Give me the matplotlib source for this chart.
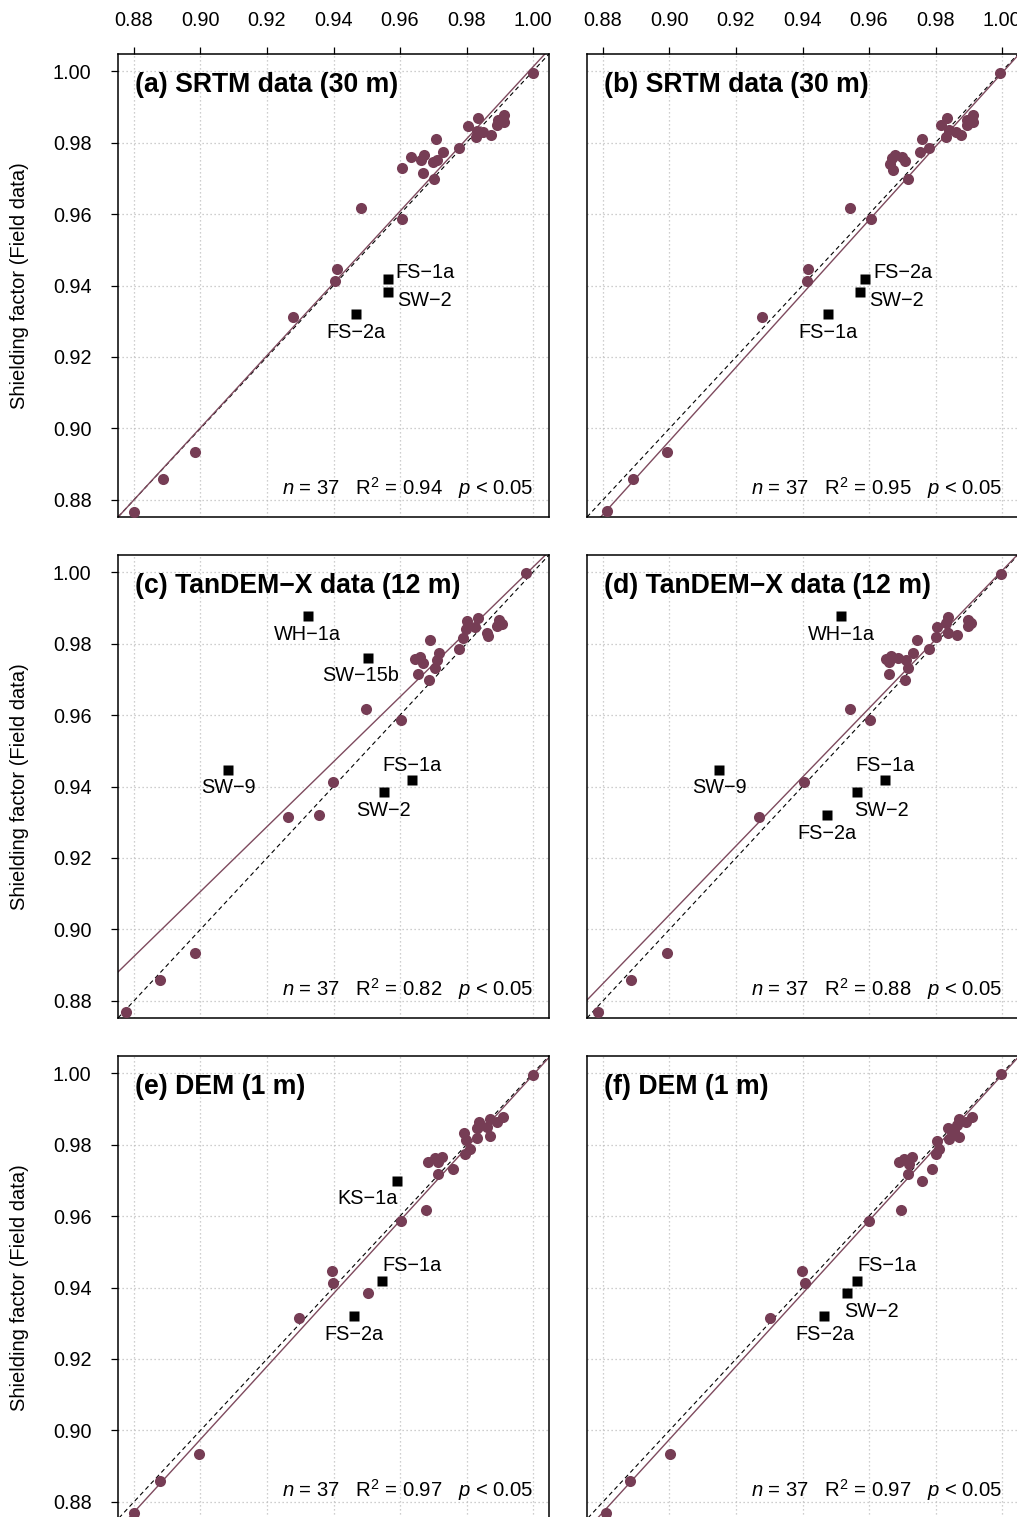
import matplotlib
matplotlib.use('Agg')
import matplotlib.pyplot as plt

plt.rcParams['font.family'] = ['Liberation Sans', 'DejaVu Sans']
plt.rcParams['mathtext.fontset'] = 'custom'
plt.rcParams['mathtext.rm'] = 'Liberation Sans'
plt.rcParams['mathtext.it'] = 'Liberation Sans:italic'
plt.rcParams['mathtext.bf'] = 'Liberation Sans:bold'

# ---------------- data ----------------
ticks = [0.88, 0.90, 0.92, 0.94, 0.96, 0.98, 1.00]
tick_labels = ['0.88', '0.90', '0.92', '0.94', '0.96', '0.98', '1.00']
axis_label = 'Shielding factor (Field data)'

titles = ['(a) SRTM data (30 m)', '(b) SRTM data (30 m)',
          '(c) TanDEM\u2212X data (12 m)', '(d) TanDEM\u2212X data (12 m)',
          '(e) DEM (1 m)', '(f) DEM (1 m)']
n_samples = [37, 37, 37, 37, 37, 37]
r2_values = ['0.94', '0.95', '0.82', '0.88', '0.97', '0.97']
p_text = '0.05'
slopes = [1.010, 1.030, 0.908, 0.963, 1.020, 1.020]
intercepts = [-0.0088, -0.0305, 0.0934, 0.0374, -0.0205, -0.0205]

a_x = [1.0, 0.9914, 0.9896, 0.9914, 0.9891, 0.9834, 0.9803, 0.9831, 0.9851, 0.9874,
       0.9828, 0.9778, 0.9708, 0.9730, 0.9633, 0.9672, 0.9662, 0.9698, 0.9712, 0.9605,
       0.9670, 0.9702, 0.9483, 0.9605, 0.9410, 0.9405, 0.9278, 0.8984, 0.8888, 0.8801]
a_y = [0.9995, 0.9878, 0.9864, 0.9857, 0.9848, 0.9869, 0.9846, 0.9832, 0.9829, 0.9820,
       0.9816, 0.9785, 0.9810, 0.9774, 0.9760, 0.9764, 0.9750, 0.9747, 0.9752, 0.9729,
       0.9715, 0.9698, 0.9616, 0.9586, 0.9446, 0.9412, 0.9313, 0.8933, 0.8859, 0.8767]
a_out_x = [0.9563, 0.9563, 0.9468]
a_out_y = [0.9418, 0.9382, 0.9319]
a_out_lab = ['FS\u22121a', 'SW\u22122', 'FS\u22122a']

b_x = [0.9995, 0.9914, 0.9896, 0.9914, 0.9894, 0.9834, 0.9816, 0.9841, 0.9861, 0.9876,
       0.9831, 0.9758, 0.9779, 0.9754, 0.9669, 0.9679, 0.9663, 0.9699, 0.9709, 0.9671,
       0.9716, 0.9543, 0.9606, 0.9416, 0.9413, 0.9279, 0.8994, 0.8890, 0.8813]
b_y = [0.9995, 0.9878, 0.9864, 0.9857, 0.9850, 0.9869, 0.9848, 0.9835, 0.9829, 0.9822,
       0.9816, 0.9810, 0.9785, 0.9774, 0.9757, 0.9764, 0.9741, 0.9760, 0.9749, 0.9722,
       0.9699, 0.9616, 0.9586, 0.9446, 0.9412, 0.9313, 0.8933, 0.8859, 0.8769]
b_out_x = [0.9588, 0.9574, 0.9476]
b_out_y = [0.9418, 0.9382, 0.9319]
b_out_lab = ['FS\u22122a', 'SW\u22122', 'FS\u22121a']

c_x = [0.9978, 0.9898, 0.9908, 0.9893, 0.9835, 0.9800, 0.9825, 0.9798, 0.9863, 0.9865,
       0.9788, 0.9690, 0.9778, 0.9718, 0.9644, 0.9661, 0.9669, 0.9710, 0.9705, 0.9654,
       0.9688, 0.9499, 0.9604, 0.9397, 0.9264, 0.9357, 0.8985, 0.8878, 0.8775]
c_y = [0.9998, 0.9865, 0.9856, 0.9849, 0.9872, 0.9864, 0.9847, 0.9841, 0.9830, 0.9821,
       0.9816, 0.9809, 0.9786, 0.9774, 0.9757, 0.9763, 0.9746, 0.9755, 0.9732, 0.9716,
       0.9699, 0.9617, 0.9586, 0.9413, 0.9314, 0.9320, 0.8934, 0.8859, 0.8770]
c_out_x = [0.9323, 0.9505, 0.9083, 0.9637, 0.9551]
c_out_y = [0.9877, 0.9761, 0.9447, 0.9417, 0.9384]
c_out_lab = ['WH\u22121a', 'SW\u221215b', 'SW\u22129', 'FS\u22121a', 'SW\u22122']

d_x = [0.9997, 0.9897, 0.9907, 0.9897, 0.9837, 0.9804, 0.9832, 0.9837, 0.9865, 0.9802,
       0.9744, 0.9780, 0.9732, 0.9651, 0.9666, 0.9686, 0.9661, 0.9710, 0.9717, 0.9660,
       0.9707, 0.9543, 0.9604, 0.9406, 0.9268, 0.8992, 0.8885, 0.8785]
d_y = [0.9996, 0.9867, 0.9858, 0.9850, 0.9874, 0.9847, 0.9858, 0.9830, 0.9825, 0.9819,
       0.9811, 0.9786, 0.9774, 0.9757, 0.9765, 0.9760, 0.9748, 0.9755, 0.9732, 0.9716,
       0.9699, 0.9617, 0.9586, 0.9413, 0.9314, 0.8934, 0.8859, 0.8770]
d_out_x = [0.9516, 0.9149, 0.9649, 0.9563, 0.9473]
d_out_y = [0.9877, 0.9447, 0.9417, 0.9384, 0.9320]
d_out_lab = ['WH\u22121a', 'SW\u22129', 'FS\u22121a', 'SW\u22122', 'FS\u22122a']

e_x = [0.9999, 0.9909, 0.9891, 0.9871, 0.9839, 0.9861, 0.9831, 0.9871, 0.9831, 0.9792,
       0.9798, 0.9810, 0.9795, 0.9685, 0.9705, 0.9725, 0.9715, 0.9760, 0.9713, 0.9677,
       0.9603, 0.9394, 0.9399, 0.9505, 0.9296, 0.8996, 0.8878, 0.8801]
e_y = [0.9995, 0.9877, 0.9862, 0.9871, 0.9864, 0.9849, 0.9846, 0.9824, 0.9818, 0.9832,
       0.9813, 0.9787, 0.9773, 0.9752, 0.9762, 0.9766, 0.9750, 0.9731, 0.9717, 0.9617,
       0.9586, 0.9447, 0.9413, 0.9384, 0.9314, 0.8934, 0.8859, 0.8769]
e_out_x = [0.9590, 0.9547, 0.9462]
e_out_y = [0.9699, 0.9419, 0.9320]
e_out_lab = ['KS\u22121a', 'FS\u22121a', 'FS\u22122a']

f_x = [0.9996, 0.9909, 0.9871, 0.9891, 0.9839, 0.9866, 0.9856, 0.9871, 0.9841, 0.9803,
       0.9811, 0.9801, 0.9689, 0.9706, 0.9729, 0.9721, 0.9716, 0.9788, 0.9758, 0.9696,
       0.9601, 0.9399, 0.9408, 0.9301, 0.9003, 0.8880, 0.8810]
f_y = [0.9997, 0.9877, 0.9871, 0.9862, 0.9846, 0.9855, 0.9839, 0.9822, 0.9815, 0.9811,
       0.9787, 0.9774, 0.9752, 0.9759, 0.9765, 0.9746, 0.9717, 0.9731, 0.9699, 0.9617,
       0.9586, 0.9447, 0.9412, 0.9314, 0.8933, 0.8859, 0.8769]
f_out_x = [0.9564, 0.9533, 0.9466]
f_out_y = [0.9419, 0.9384, 0.9320]
f_out_lab = ['FS\u22121a', 'SW\u22122', 'FS\u22122a']

# ---------------- style / layout ----------------
# label placements: (dx px, dy px, ha)
PLACE = {
    'ur': (8, 7, 'left'),
    'dr': (9, -9, 'left'),
    'b': (0, -18, 'center'),
    'bw': (-8, -18, 'center'),
    'a': (0, 15, 'center'),
    'al': (0, 15, 'left'),
    'bl': (-3, -18, 'left'),
    'br': (1, -18, 'right'),
}
placements = [
    ['ur', 'dr', 'b'],
    ['ur', 'dr', 'b'],
    ['b', 'bw', 'b', 'a', 'b'],
    ['b', 'b', 'a', 'bl', 'b'],
    ['br', 'al', 'b'],
    ['al', 'bl', 'b'],
]

panels = [
    (a_x, a_y, a_out_x, a_out_y, a_out_lab),
    (b_x, b_y, b_out_x, b_out_y, b_out_lab),
    (c_x, c_y, c_out_x, c_out_y, c_out_lab),
    (d_x, d_y, d_out_x, d_out_y, d_out_lab),
    (e_x, e_y, e_out_x, e_out_y, e_out_lab),
    (f_x, f_y, f_out_x, f_out_y, f_out_lab),
]

W, H = 1017, 1517
DPI = 100
PT = 72.0 / DPI
MAROON = '#763D55'
LINE_MAROON = '#7E4A5E'
lim = (0.88 - 0.0048, 1.00 + 0.0048)

fig = plt.figure(figsize=(W / DPI, H / DPI), dpi=DPI)

col_left = [118, 587]
row_top = [54, 555, 1056]
ax_w, ax_h = 431, 463

for i, (px, py, ox, oy, olab) in enumerate(panels):
    r, c = divmod(i, 2)
    left = col_left[c] / W
    bottom = (H - row_top[r] - ax_h) / H
    ax = fig.add_axes([left, bottom, ax_w / W, ax_h / H])
    ax.set_xlim(lim)
    ax.set_ylim(lim)
    ax.set_xticks(ticks)
    ax.set_yticks(ticks)
    ax.set_axisbelow(True)
    ax.grid(True, color='#BEBEBE', linestyle=(0, (1, 2.2)), linewidth=0.9)
    for s in ax.spines.values():
        s.set_linewidth(1.1)
        s.set_color('black')

    # x ticks on top row only
    if r == 0:
        ax.xaxis.tick_top()
        ax.set_xticklabels(tick_labels)
        ax.tick_params(axis='x', which='both', direction='out', length=5, width=0.9,
                       labelsize=14.3, pad=12, top=True, bottom=False,
                       labeltop=True, labelbottom=False)
    else:
        ax.tick_params(axis='x', which='both', length=0, labeltop=False, labelbottom=False)
    if c == 0:
        ax.set_yticklabels(tick_labels)
        ax.tick_params(axis='y', which='both', direction='out', length=5, width=0.9,
                       labelsize=14.3, pad=14)
    else:
        ax.tick_params(axis='y', which='both', length=0, labelleft=False)

    # 1:1 line and regression line
    ax.axline((0.9, 0.9), slope=1.0, color='black', linewidth=0.8,
              linestyle=(0, (4, 3)), zorder=2)
    ax.axline((0.0, intercepts[i]), slope=slopes[i], color=LINE_MAROON,
              linewidth=1.0, zorder=2)

    ax.plot(px, py, 'o', ms=8.0, color=MAROON, mec='none', zorder=3)
    ax.plot(ox, oy, 's', ms=6.6, color='black', mec='none', zorder=3)
    for xx, yy, lab, pl in zip(ox, oy, olab, placements[i]):
        dx, dy, ha = PLACE[pl]
        ax.annotate(lab, (xx, yy), xytext=(dx * PT, dy * PT), textcoords='offset points',
                    ha=ha, va='center', fontsize=14.3, zorder=4)

    ax.text(0.04, 0.918, titles[i], transform=ax.transAxes, fontsize=19.2,
            fontweight='bold', ha='left', va='baseline')
    stats = (r'$n$ = %d   R$^2$ = %s   $p$ < %s' % (n_samples[i], r2_values[i], p_text))
    ax.text((1.0 - lim[0]) / (lim[1] - lim[0]), 0.0475, stats, transform=ax.transAxes,
            fontsize=14.6, ha='right', va='baseline')

    if c == 0:
        fig.text(20 / W, 1 - (row_top[r] + ax_h / 2) / H, axis_label, rotation=90,
                 ha='center', va='center', fontsize=14.5)

fig.savefig('out.png', dpi=DPI)
